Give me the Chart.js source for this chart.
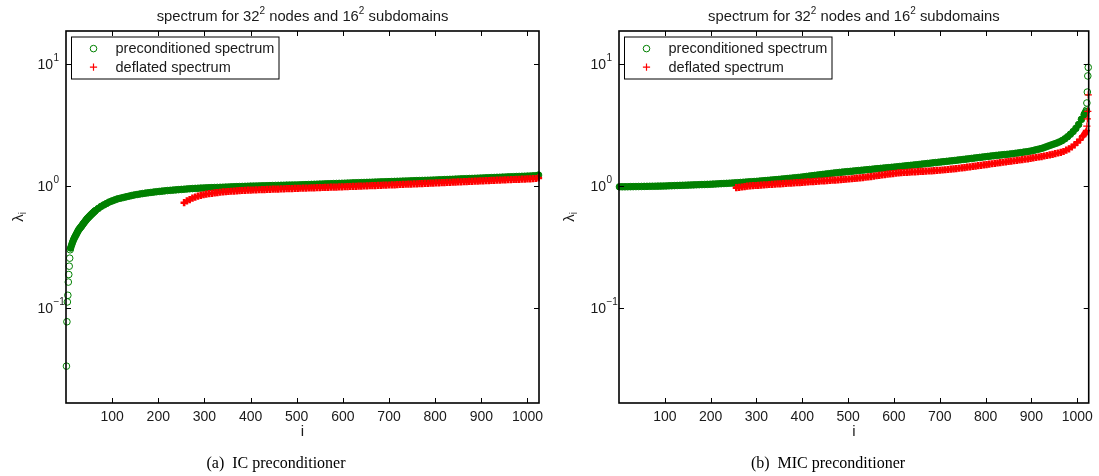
<!DOCTYPE html>
<html>
<head>
<meta charset="utf-8">
<script src="https://cdn.jsdelivr.net/npm/chart.js@4.4.1/dist/chart.umd.min.js"></script>
<style>
  body { margin: 0; background: #fff; width: 1099px; height: 476px; overflow: hidden; position: relative; }
  canvas { position: absolute; top: 0; }
  #icChart { left: 0; }
  #micChart { left: 550px; }
</style>
</head>
<body>
<canvas id="icChart" width="550" height="476"></canvas>
<canvas id="micChart" width="549" height="476"></canvas>
<script>
// eigenvalue index on x, lambda_i on y (log)
const xTickValues = [100, 200, 300, 400, 500, 600, 700, 800, 900, 1000];
const yTickValues = [10, 1, 0.1];
const yTickExponents = ['1', '0', '\u22121'];
const seriesNames = ['preconditioned spectrum', 'deflated spectrum'];

// IC preconditioner
// i = 1..9 (isolated small eigenvalues)
const icPrecHead = [0.0333, 0.077, 0.112, 0.127, 0.163, 0.188, 0.22, 0.256, 0.30];
// i = 10, 12, ..., 64
const icPrecSteep = [
  0.31, 0.327, 0.344, 0.36, 0.374, 0.387, 0.40, 0.414, 0.427, 0.44,
  0.45, 0.46, 0.47, 0.482, 0.494, 0.505, 0.517, 0.529, 0.54, 0.55,
  0.56, 0.57, 0.58, 0.59, 0.60, 0.61, 0.62, 0.63
];
// i = 70, 76, ..., 1024
const icPrec = [
  0.655, 0.68, 0.70, 0.72, 0.74, 0.755, 0.77, 0.785, 0.795, 0.805,
  0.815, 0.825, 0.835, 0.845, 0.852, 0.86, 0.867, 0.874, 0.88, 0.886,
  0.892, 0.898, 0.903, 0.908, 0.913, 0.918, 0.922, 0.926, 0.93, 0.934,
  0.938, 0.942, 0.946, 0.95, 0.953, 0.956, 0.959, 0.962, 0.964, 0.966,
  0.968, 0.97, 0.972, 0.974, 0.976, 0.978, 0.98, 0.982, 0.984, 0.986,
  0.988, 0.99, 0.992, 0.994, 0.996, 0.998,
  0.999, 1.0, 1.002, 1.003, 1.005, 1.006, 1.008, 1.009, 1.011, 1.012, 1.014, 1.015, 1.017, 1.018, 1.019, 1.02,
  1.021, 1.023, 1.025, 1.027, 1.029, 1.031, 1.033, 1.035, 1.037, 1.039, 1.041, 1.043, 1.045,
  1.047, 1.049, 1.051, 1.053, 1.055, 1.057, 1.059, 1.061, 1.063, 1.065, 1.067, 1.069, 1.071,
  1.073, 1.075, 1.077, 1.079, 1.081, 1.083, 1.085, 1.087, 1.089, 1.091, 1.093, 1.095,
  1.097, 1.099, 1.101, 1.103, 1.105, 1.107, 1.109, 1.111, 1.113, 1.115, 1.117, 1.119,
  1.121, 1.124, 1.126, 1.129, 1.131, 1.134, 1.136, 1.139, 1.142, 1.144, 1.147, 1.149, 1.152,
  1.154, 1.157, 1.16, 1.162, 1.165, 1.167, 1.17, 1.172, 1.175, 1.178, 1.18, 1.183, 1.185,
  1.188, 1.19, 1.193, 1.196, 1.198, 1.201, 1.203, 1.206, 1.208, 1.211, 1.215, 1.23
];
// i = 256, 262, ..., 1024
const icDefl = [
  0.73, 0.755, 0.775, 0.795, 0.81, 0.825, 0.837, 0.848, 0.857, 0.865,
  0.872, 0.878, 0.884, 0.889, 0.894, 0.898, 0.902, 0.906, 0.91, 0.913,
  0.916, 0.919, 0.922, 0.924, 0.926, 0.928, 0.93, 0.932, 0.934, 0.936,
  0.938, 0.94, 0.942, 0.944, 0.945, 0.947, 0.949, 0.951, 0.952, 0.954,
  0.955, 0.957, 0.959, 0.96, 0.962, 0.964, 0.966, 0.967, 0.969, 0.971,
  0.973, 0.974, 0.976, 0.978, 0.98, 0.981, 0.983, 0.985, 0.987, 0.989,
  0.991, 0.993, 0.995, 0.997, 0.999, 1.001, 1.003, 1.005, 1.007, 1.009,
  1.011, 1.013, 1.016, 1.018, 1.02, 1.022, 1.024, 1.027, 1.029, 1.031,
  1.034, 1.036, 1.038, 1.041, 1.043, 1.046, 1.048, 1.051, 1.053, 1.056,
  1.058, 1.061, 1.063, 1.066, 1.068, 1.071, 1.073, 1.076, 1.078, 1.081,
  1.083, 1.086, 1.088, 1.091, 1.093, 1.096, 1.098, 1.101, 1.103, 1.106,
  1.108, 1.111, 1.113, 1.116, 1.118, 1.121, 1.123, 1.126, 1.128, 1.131,
  1.133, 1.136, 1.138, 1.141, 1.143, 1.146, 1.149, 1.153, 1.165
];

// MIC preconditioner
// i = 1, 7, ..., 1015
const micPrec = [
  0.985, 0.986, 0.986, 0.987, 0.988, 0.989, 0.99, 0.991, 0.992, 0.993, 0.994, 0.995, 0.996, 0.997, 0.998, 0.999, 1.0,
  1.002, 1.004, 1.006, 1.008, 1.01, 1.012, 1.014, 1.016, 1.018, 1.02, 1.022, 1.024, 1.026, 1.028, 1.03, 1.032, 1.034,
  1.037, 1.04, 1.043, 1.046, 1.049, 1.052, 1.055, 1.058, 1.061, 1.065, 1.069, 1.073, 1.077, 1.081, 1.085, 1.089,
  1.093, 1.098, 1.103, 1.108, 1.113, 1.118, 1.123, 1.128, 1.134, 1.14, 1.146, 1.152, 1.158, 1.164, 1.17, 1.176, 1.182,
  1.19, 1.198, 1.206, 1.214, 1.222, 1.23, 1.238, 1.246, 1.254, 1.262, 1.27, 1.278, 1.286, 1.293, 1.3, 1.306, 1.312,
  1.319, 1.326, 1.333, 1.34, 1.347, 1.354, 1.361, 1.368, 1.375, 1.382, 1.389, 1.396, 1.403, 1.41, 1.417, 1.424, 1.431, 1.438,
  1.447, 1.455, 1.463, 1.471, 1.479, 1.487, 1.495, 1.504, 1.513, 1.522, 1.531, 1.54, 1.549, 1.558, 1.567, 1.576, 1.585, 1.594,
  1.603, 1.612, 1.622, 1.632, 1.642, 1.652, 1.662, 1.673, 1.684, 1.695, 1.706, 1.717, 1.728, 1.739, 1.75, 1.761, 1.772, 1.783,
  1.792, 1.801, 1.81, 1.82, 1.83, 1.842, 1.855, 1.868, 1.882, 1.896, 1.91, 1.925,
  1.945, 1.97, 1.995, 2.02, 2.05, 2.09, 2.13, 2.17, 2.21, 2.25, 2.3, 2.36, 2.44, 2.54, 2.66, 2.8, 2.97, 3.2, 3.52, 3.85
];
// i = 1016..1024
const micPrecTail = [3.9, 3.95, 4.0, 4.08, 4.2, 4.8, 5.9, 8.0, 9.4];
// i = 256, 262, ..., 1012
const micDefl = [
  0.97, 0.975, 0.982, 0.99, 0.997, 1.002, 1.006, 1.01, 1.014, 1.018,
  1.021, 1.025, 1.029, 1.032, 1.036, 1.04, 1.043, 1.047, 1.051, 1.054,
  1.058, 1.061, 1.065, 1.068, 1.072, 1.076, 1.08, 1.084, 1.088, 1.092,
  1.096, 1.1, 1.104, 1.108, 1.112, 1.116, 1.12, 1.125, 1.129, 1.133,
  1.137, 1.142, 1.148, 1.154, 1.16, 1.166, 1.173, 1.18, 1.188, 1.196,
  1.205, 1.214, 1.223, 1.232, 1.241, 1.25, 1.258, 1.266, 1.273, 1.28,
  1.286, 1.291, 1.296, 1.301, 1.305, 1.309, 1.313, 1.317, 1.321, 1.325,
  1.329, 1.333, 1.338, 1.343, 1.348, 1.354, 1.36, 1.367, 1.374, 1.382,
  1.39, 1.399, 1.408, 1.417, 1.427, 1.437, 1.447, 1.457, 1.468, 1.479,
  1.49, 1.501, 1.512, 1.523, 1.534, 1.545, 1.556, 1.567, 1.578, 1.589,
  1.6, 1.612, 1.624, 1.636, 1.648, 1.66, 1.673, 1.686, 1.7, 1.715,
  1.73, 1.746, 1.763, 1.781, 1.8, 1.82, 1.842, 1.866, 1.892, 1.92,
  1.97, 2.02, 2.09, 2.17, 2.28, 2.4, 2.56
];
// i = 1013..1024
const micDeflTail = [2.58, 2.61, 2.64, 2.67, 2.7, 2.74, 2.79, 2.86, 3.1, 3.55, 4.1, 5.6];

const GREEN = 'rgb(0,128,0)';
const RED = 'rgb(255,0,0)';
const TXT = '#1a1a1a';
const SANS = '"Liberation Sans", Arial, sans-serif';

// x positions: first index + k*step
function pts(start, step, vals) {
  return vals.map((v, k) => ({ x: start + k * step, y: v }));
}

// text with superscripts (mode 1) / subscripts (mode -1)
function richText(ctx, parts, cx, cy, size) {
  const small = Math.round(size * 0.68);
  let w = 0;
  parts.forEach(p => {
    ctx.font = (p[1] ? small : size) + 'px ' + SANS;
    w += ctx.measureText(p[0]).width;
  });
  let x = cx - w / 2;
  ctx.textAlign = 'left';
  ctx.textBaseline = 'middle';
  parts.forEach(p => {
    ctx.font = (p[1] ? small : size) + 'px ' + SANS;
    const dy = p[1] === 1 ? -size * 0.42 : (p[1] === -1 ? size * 0.3 : 0);
    ctx.fillText(p[0], x, cy + dy);
    x += ctx.measureText(p[0]).width;
  });
}

function circleMark(ctx, x, y) {
  ctx.strokeStyle = GREEN;
  ctx.lineWidth = 1;
  ctx.beginPath();
  ctx.arc(x, y, 3.3, 0, Math.PI * 2);
  ctx.stroke();
}

function crossMark(ctx, x, y) {
  ctx.strokeStyle = RED;
  ctx.lineWidth = 1.2;
  ctx.beginPath();
  ctx.moveTo(x - 3.6, y); ctx.lineTo(x + 3.6, y);
  ctx.moveTo(x, y - 3.6); ctx.lineTo(x, y + 3.6);
  ctx.stroke();
}

const frameAndText = {
  id: 'frameAndText',
  afterDatasetsDraw(chart, args, o) {
    const ctx = chart.ctx;
    const a = chart.chartArea;
    const xs = chart.scales.x, ys = chart.scales.y;
    ctx.save();

    // legend
    const bx = a.left + 5.5, by = a.top + 6, bw = 207.5, bh = 42;
    ctx.fillStyle = '#fff';
    ctx.fillRect(bx, by, bw, bh);
    ctx.strokeStyle = '#000';
    ctx.lineWidth = 1;
    ctx.strokeRect(bx, by, bw, bh);
    circleMark(ctx, bx + 22, by + 11.6);
    crossMark(ctx, bx + 22, by + 30.1);
    ctx.fillStyle = TXT;
    ctx.font = '14.5px ' + SANS;
    ctx.textAlign = 'left';
    ctx.textBaseline = 'middle';
    ctx.fillText(seriesNames[0], bx + 44, by + 12);
    ctx.fillText(seriesNames[1], bx + 44, by + 30.5);

    // box and inward ticks
    ctx.strokeStyle = '#000';
    ctx.lineWidth = 1.6;
    ctx.strokeRect(a.left, a.top, a.right - a.left, a.bottom - a.top);
    ctx.lineWidth = 1;
    ctx.beginPath();
    xTickValues.forEach(v => {
      const px = Math.round(xs.getPixelForValue(v)) + 0.5;
      ctx.moveTo(px, a.bottom); ctx.lineTo(px, a.bottom - 5);
      ctx.moveTo(px, a.top); ctx.lineTo(px, a.top + 5);
    });
    yTickValues.forEach(v => {
      const py = Math.round(ys.getPixelForValue(v)) + 0.5;
      ctx.moveTo(a.left, py); ctx.lineTo(a.left + 5, py);
      ctx.moveTo(a.right, py); ctx.lineTo(a.right - 5, py);
    });
    ctx.stroke();

    // y tick labels 10^k
    ctx.fillStyle = TXT;
    yTickValues.forEach((v, k) => {
      const py = ys.getPixelForValue(v);
      const xr = a.left - 13;
      ctx.font = '14px ' + SANS;
      ctx.textAlign = 'right';
      ctx.textBaseline = 'middle';
      ctx.fillText('10', xr, py + 1);
      ctx.font = '10px ' + SANS;
      ctx.textAlign = 'left';
      ctx.fillText(yTickExponents[k], xr + 0.5, py - 6);
    });

    // title
    const cx = (a.left + a.right) / 2;
    richText(ctx, [['spectrum for 32', 0], ['2', 1], [' nodes and 16', 0], ['2', 1], [' subdomains', 0]], cx, 17, 14.8);

    // axis labels
    ctx.font = '15px ' + SANS;
    ctx.textAlign = 'center';
    ctx.textBaseline = 'middle';
    ctx.fillText('i', cx, 432);

    ctx.save();
    ctx.translate(o.ylabelX, (a.top + a.bottom) / 2);
    ctx.rotate(-Math.PI / 2);
    richText(ctx, [['\u03bb', 0], ['i', -1]], 0, 0, 15);
    ctx.restore();

    // sub-figure caption
    ctx.font = '16px "Liberation Serif", "Times New Roman", serif';
    ctx.textAlign = 'center';
    ctx.textBaseline = 'middle';
    ctx.fillStyle = '#000';
    ctx.fillText(o.caption, o.captionX, 464);

    ctx.restore();
  }
};

// dense runs of markers are drawn heavier so that they merge into the solid band
// that ~1000 overlapping markers form in the original; isolated ones stay thin
function greenSet(data, dense, order) {
  return {
    data, clip: false, order,
    pointStyle: 'circle',
    pointRadius: 3.3,
    pointBorderWidth: 1,
    pointBorderColor: GREEN,
    pointBackgroundColor: dense ? GREEN : 'rgba(0,0,0,0)'
  };
}
function redSet(data, dense, order) {
  return {
    data, clip: false, order,
    pointStyle: 'cross',
    pointRadius: 3.6,
    pointBorderWidth: dense ? 2.6 : 1.2,
    pointBorderColor: RED
  };
}

function makeChart(id, datasets, opts) {
  return new Chart(document.getElementById(id), {
    type: 'scatter',
    data: { datasets },
    options: {
      responsive: false,
      animation: false,
      devicePixelRatio: 1,
      layout: { padding: { left: 0, right: opts.padRight, top: 31, bottom: 48 } },
      plugins: {
        legend: { display: false },
        tooltip: { enabled: false },
        frameAndText: { caption: opts.caption, captionX: opts.captionX, ylabelX: opts.ylabelX }
      },
      scales: {
        x: {
          type: 'linear',
          min: 0,
          max: 1025,
          grid: { display: false, drawTicks: false },
          border: { display: false },
          afterBuildTicks: s => { s.ticks = xTickValues.map(v => ({ value: v })); },
          ticks: {
            autoSkip: false,
            maxRotation: 0,
            padding: 6,
            color: TXT,
            font: { family: SANS, size: 14 },
            callback: v => String(v)
          },
          afterFit: s => { s.height = 25; }
        },
        y: {
          type: 'logarithmic',
          min: 0.0166,
          max: 18.7,
          grid: { display: false, drawTicks: false },
          border: { display: false },
          ticks: { display: false },
          afterFit: s => { s.width = opts.yAxisWidth; }
        }
      }
    },
    plugins: [frameAndText]
  });
}

makeChart('icChart', [
  greenSet(pts(1, 1, icPrecHead), false, 4),
  greenSet(pts(10, 2, icPrecSteep).concat(pts(70, 6, icPrec)), true, 3),
  redSet(pts(256, 6, icDefl), true, 2)
], { padRight: 11, yAxisWidth: 66, caption: '(a)  IC preconditioner', captionX: 276, ylabelX: 19 });

makeChart('micChart', [
  greenSet(pts(1016, 1, micPrecTail), false, 4),
  greenSet(pts(1, 6, micPrec), true, 3),
  redSet(pts(256, 6, micDefl), true, 2),
  redSet(pts(1013, 1, micDeflTail), false, 1)
], { padRight: 7, yAxisWidth: 69, caption: '(b)  MIC preconditioner', captionX: 278, ylabelX: 20 });
</script>
</body>
</html>
